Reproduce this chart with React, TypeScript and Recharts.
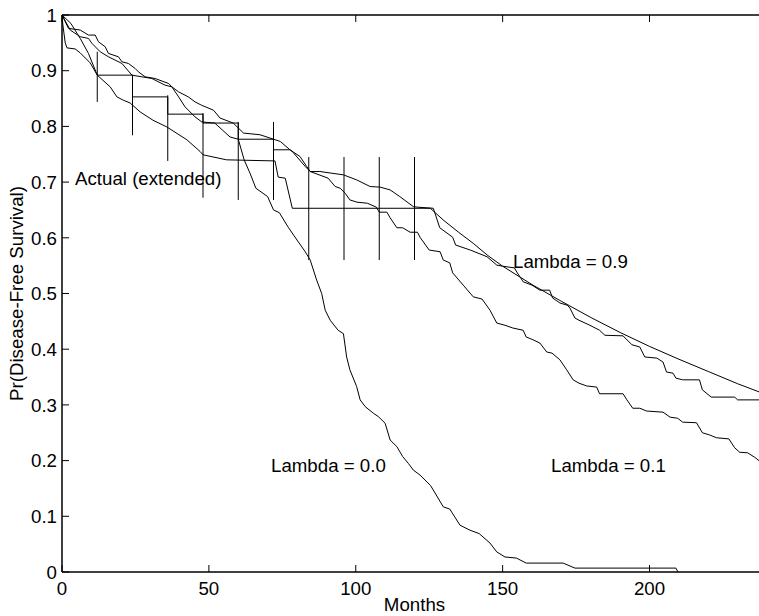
import { LineChart, Line, XAxis, YAxis } from 'recharts';

type Pt = [number, number];

const FONT = "'Liberation Sans', Arial, Helvetica, sans-serif";
const FS = 18.7;

const xTicks = [0, 50, 100, 150, 200];
const yTicks = [0, 0.1, 0.2, 0.3, 0.4, 0.5, 0.6, 0.7, 0.8, 0.9, 1];
const yTickLabels = ['0', '0.1', '0.2', '0.3', '0.4', '0.5', '0.6', '0.7', '0.8', '0.9', '1'];

// [month, survival]
const lambda09: Pt[] = [
  [0, 1.0], [2.2, 0.976], [6.2, 0.973], [9, 0.964], [11.3, 0.964], [12.4, 0.952], [14.7, 0.943],
  [15.8, 0.931], [19.2, 0.925], [20.4, 0.916], [22.6, 0.913], [24.9, 0.904], [26, 0.898], [28.3, 0.889],
  [31.7, 0.886], [36.3, 0.877], [37.4, 0.871], [39.7, 0.862], [43, 0.853], [45.3, 0.844], [47.5, 0.838],
  [51.6, 0.829], [53.8, 0.815], [58.3, 0.806], [61.8, 0.788], [67.4, 0.785], [72, 0.777], [74.3, 0.773],
  [77.6, 0.758], [81, 0.746], [83.3, 0.728], [84.5, 0.719], [87.8, 0.719], [95.8, 0.713], [100.3, 0.704],
  [104.9, 0.692], [108.3, 0.691], [111.7, 0.686], [115, 0.674], [119.6, 0.656], [121, 0.655], [126.4, 0.653],
  [128.6, 0.618], [133, 0.601], [134, 0.587], [139, 0.578], [144.7, 0.566], [148, 0.551], [150, 0.549],
  [154, 0.546], [155, 0.537], [157, 0.521], [160, 0.515], [162.7, 0.506], [166, 0.506], [167, 0.492],
  [169.5, 0.483], [172, 0.479], [172.9, 0.474], [174.6, 0.456], [176, 0.452], [179.7, 0.443], [183, 0.434],
  [184.8, 0.425], [191, 0.424], [194, 0.408], [196.7, 0.404], [198.4, 0.386], [202.5, 0.384], [204.6, 0.377],
  [205.8, 0.359], [208, 0.357], [209, 0.348], [211.3, 0.345], [217, 0.345], [218, 0.327], [221, 0.314],
  [229, 0.314], [230, 0.309], [240, 0.309],
];

const lambda01: Pt[] = [
  [0, 1.0], [3, 0.985], [6.2, 0.958], [9, 0.931], [12, 0.892], [24, 0.892], [24, 0.853], [36, 0.853],
  [36, 0.822], [48, 0.822], [48, 0.806], [60, 0.806], [60, 0.777], [72, 0.777], [72, 0.758], [77.6, 0.758],
  [78.4, 0.755], [82.8, 0.728], [84.5, 0.719], [90.6, 0.707], [93, 0.692], [94.7, 0.689], [96.4, 0.68],
  [98, 0.668], [100.4, 0.664], [104, 0.662], [107, 0.655], [108, 0.646], [110.6, 0.646], [111.7, 0.636],
  [114, 0.618], [116, 0.618], [118.5, 0.61], [121, 0.61], [122, 0.6], [125, 0.578], [128.7, 0.575],
  [129.8, 0.56], [132, 0.555], [133, 0.537], [136.6, 0.515], [140, 0.494], [143, 0.49], [145.7, 0.47],
  [148, 0.447], [150.8, 0.443], [153.5, 0.438], [157, 0.434], [158, 0.422], [160.3, 0.417], [162.7, 0.411],
  [165, 0.395], [166.8, 0.393], [169.5, 0.381], [171.8, 0.363], [174, 0.345], [176, 0.339], [178.6, 0.334],
  [182, 0.332], [183, 0.32], [191, 0.32], [192.3, 0.309], [194.3, 0.294], [196.7, 0.294], [199, 0.289],
  [204.6, 0.287], [207, 0.278], [209.6, 0.276], [211.3, 0.269], [216, 0.268], [218, 0.25], [220.5, 0.246],
  [222.8, 0.241], [227, 0.239], [229, 0.223], [230.7, 0.215], [233.4, 0.214], [235.8, 0.206], [237.5, 0.199],
  [240, 0.19],
];

const lambda00: Pt[] = [
  [0, 1.0], [2.8, 0.973], [6.2, 0.961], [9, 0.958], [10.2, 0.949], [13, 0.934], [15.8, 0.925], [20.4, 0.913],
  [23.8, 0.892], [27.2, 0.889], [30.6, 0.886], [35.1, 0.874], [37.4, 0.871], [39.7, 0.853], [41.9, 0.835],
  [45.3, 0.817], [47.6, 0.808], [52, 0.806], [57.2, 0.781], [60, 0.777], [62, 0.74], [64, 0.716], [66, 0.689],
  [70, 0.674], [72, 0.65], [74, 0.645], [77, 0.619], [80, 0.596], [82.8, 0.575], [84.5, 0.56], [86.7, 0.524],
  [88.4, 0.5], [89.6, 0.47], [91.3, 0.452], [94, 0.434], [95.8, 0.428], [96.9, 0.386], [98, 0.363],
  [100.3, 0.333], [101.5, 0.309], [103.2, 0.297], [106, 0.285], [107.7, 0.279], [110, 0.267], [111.7, 0.237],
  [114, 0.225], [116, 0.207], [117.9, 0.195], [119.6, 0.183], [121.9, 0.174], [125.5, 0.155], [129.8, 0.117],
  [132, 0.113], [135.5, 0.084], [138.9, 0.075], [142, 0.069], [145.7, 0.052], [148, 0.036], [150.8, 0.027],
  [154.7, 0.025], [158, 0.016], [170.6, 0.016], [174.6, 0.007], [209, 0.007], [209.7, 0],
];

const actualKM: Pt[] = [
  [0, 1.0], [0.3, 0.982], [1.1, 0.95], [1.7, 0.941], [4.5, 0.939], [6.2, 0.932], [9.6, 0.914], [12, 0.892],
  [16.4, 0.871], [18.7, 0.853], [20.9, 0.847], [23.2, 0.842], [26.6, 0.826], [31, 0.811], [35.7, 0.799],
  [42.5, 0.776], [47, 0.755], [48, 0.749], [56, 0.74], [72.5, 0.738], [73.6, 0.709], [76, 0.707],
  [78.4, 0.653], [125.4, 0.653],
];

const actualExtension: Pt[] = [
  [125.4, 0.653], [130, 0.631], [135, 0.61], [140, 0.59], [145, 0.568], [150, 0.549], [160, 0.516],
  [170, 0.486], [180, 0.457], [190, 0.43], [200, 0.405], [210, 0.382], [220, 0.36], [230, 0.338], [240, 0.318],
];

const barMonths = [12, 24, 36, 48, 60, 72, 84, 96, 108, 120];
const barLow = [0.844, 0.784, 0.738, 0.672, 0.668, 0.668, 0.56, 0.56, 0.56, 0.56];
const barHigh = [0.934, 0.892, 0.856, 0.824, 0.808, 0.808, 0.745, 0.745, 0.745, 0.745];

const toRows = (pts: Pt[]) => pts.map(([m, v]) => ({ m, v }));

const curves = [lambda09, lambda01, lambda00, actualKM, actualExtension].map(toRows);
const bars = barMonths.map((m, i) => [
  { m, v: barLow[i] },
  { m, v: barHigh[i] },
]);

const BottomTick = ({ x, y, payload }: any) => (
  <g>
    <line x1={x} y1={y} x2={x} y2={y - 7} stroke="#000" strokeWidth={1} />
    <text x={x} y={y + 23} textAnchor="middle" fontFamily={FONT} fontSize={FS} fill="#000">
      {payload.value}
    </text>
  </g>
);

const TopTick = ({ x, y }: any) => (
  <line x1={x} y1={y} x2={x} y2={y + 7} stroke="#000" strokeWidth={1} />
);

const LeftTick = ({ x, y, index }: any) => (
  <g>
    <line x1={x} y1={y} x2={x + 7} y2={y} stroke="#000" strokeWidth={1} />
    <text x={x - 5} y={y + 6.7} textAnchor="end" fontFamily={FONT} fontSize={FS} fill="#000">
      {yTickLabels[index]}
    </text>
  </g>
);

const annotations = [
  { text: 'Actual (extended)', x: 75, y: 185 },
  { text: 'Lambda = 0.9', x: 513, y: 268 },
  { text: 'Lambda = 0.0', x: 271, y: 472 },
  { text: 'Lambda = 0.1', x: 551, y: 472 },
];

const App = () => {
  return (
    <div style={{ position: 'relative', width: 759, height: 616, overflow: 'hidden', background: '#fff', fontFamily: FONT }}>
      <style>{'body{margin:0}'}</style>
      <LineChart width={780} height={616} margin={{ top: 0, right: 13, bottom: 0, left: 0 }}>
        <XAxis
          xAxisId="top"
          orientation="top"
          type="number"
          dataKey="m"
          domain={[0, 240]}
          allowDataOverflow
          ticks={xTicks}
          interval={0}
          height={15}
          tickSize={0}
          tickMargin={0}
          tickLine={false}
          axisLine={{ stroke: '#000', strokeWidth: 1.5 }}
          tick={<TopTick />}
        />
        <XAxis
          type="number"
          dataKey="m"
          domain={[0, 240]}
          allowDataOverflow
          ticks={xTicks}
          interval={0}
          height={44}
          tickSize={0}
          tickMargin={0}
          tickLine={false}
          axisLine={{ stroke: '#000', strokeWidth: 1.5 }}
          tick={<BottomTick />}
          label={{ value: 'Months', position: 'insideBottom', offset: 5, fill: '#000', fontSize: FS, fontFamily: FONT }}
        />
        <YAxis
          type="number"
          domain={[0, 1]}
          allowDataOverflow
          ticks={yTicks}
          interval={0}
          width={62}
          tickSize={0}
          tickMargin={0}
          tickLine={false}
          axisLine={{ stroke: '#000', strokeWidth: 1.5 }}
          tick={<LeftTick />}
          label={{
            value: 'Pr(Disease-Free Survival)',
            angle: -90,
            position: 'insideLeft',
            offset: 16,
            fill: '#000',
            fontSize: FS,
            fontFamily: FONT,
            style: { textAnchor: 'middle' },
          }}
        />
        {curves.map((rows, i) => (
          <Line
            key={`curve-${i}`}
            data={rows}
            dataKey="v"
            type="linear"
            stroke="#000"
            strokeWidth={1}
            dot={false}
            activeDot={false}
            isAnimationActive={false}
          />
        ))}
        {bars.map((rows, i) => (
          <Line
            key={`bar-${i}`}
            data={rows}
            dataKey="v"
            type="linear"
            stroke="#000"
            strokeWidth={1}
            dot={false}
            activeDot={false}
            isAnimationActive={false}
          />
        ))}
      </LineChart>
      <svg width={759} height={616} style={{ position: 'absolute', left: 0, top: 0, pointerEvents: 'none' }}>
        {annotations.map((a) => (
          <text key={a.text} x={a.x} y={a.y} fontFamily={FONT} fontSize={FS} fill="#000">
            {a.text}
          </text>
        ))}
      </svg>
    </div>
  );
};

export default App;
